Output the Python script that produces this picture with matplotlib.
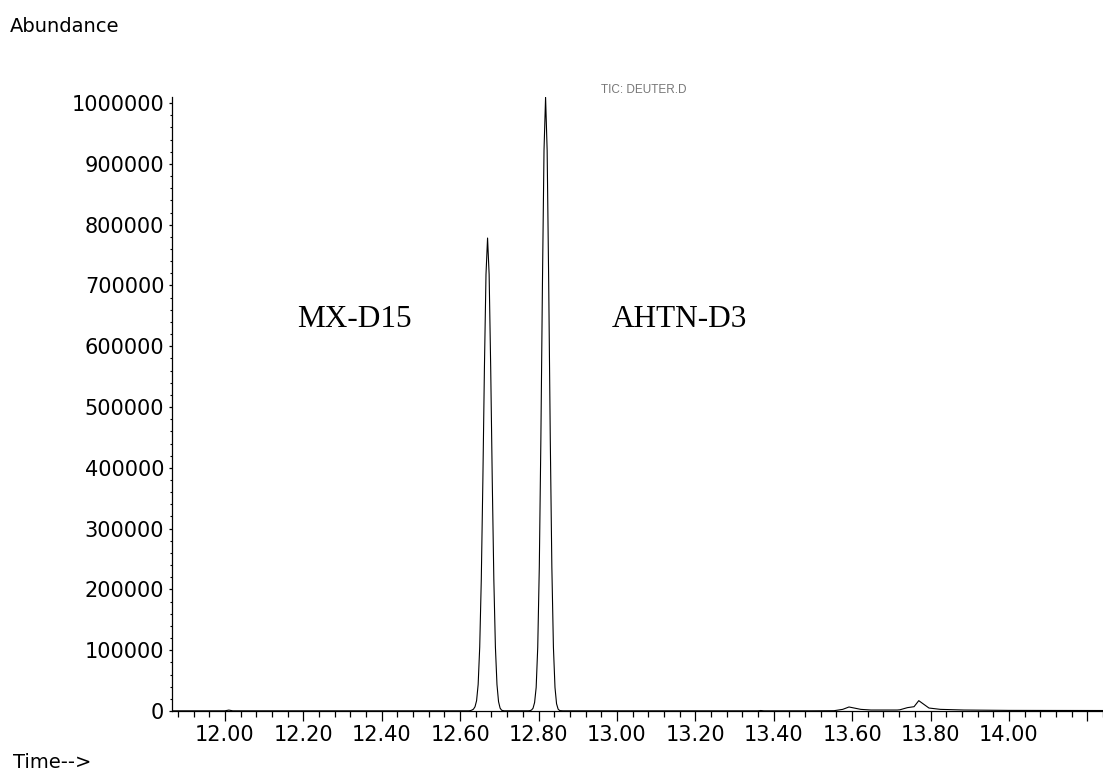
import matplotlib
matplotlib.use("Agg")
import matplotlib.pyplot as plt
from matplotlib.ticker import MultipleLocator, FuncFormatter

# TIC trace (time in min, abundance in counts)
time_min = [
    11.865, 11.95, 12.00, 12.01, 12.02, 12.20, 12.40, 12.60,
    12.622, 12.626, 12.630, 12.634, 12.638, 12.642, 12.646, 12.650, 12.654,
    12.658, 12.662, 12.666, 12.670, 12.674, 12.678, 12.682, 12.686, 12.690,
    12.694, 12.698, 12.702, 12.706, 12.712,
    12.740, 12.774, 12.778, 12.782, 12.786, 12.790, 12.794, 12.798, 12.802,
    12.806, 12.810, 12.814, 12.818, 12.822, 12.826, 12.830, 12.834, 12.838,
    12.842, 12.846, 12.850, 12.854, 12.862,
    13.00, 13.20, 13.36, 13.367, 13.375, 13.50, 13.554, 13.576,
    13.592, 13.609, 13.622, 13.648, 13.715, 13.722, 13.741, 13.758, 13.770,
    13.796, 13.825, 13.885, 14.00, 14.10, 14.24,
]
abundance = [
    300, 300, 300, 1500, 300, 300, 300, 300,
    300, 600, 1500, 3000, 7000, 17000, 43600, 105300, 216300,
    378700, 564900, 718200, 778000, 718200, 564900, 378700, 216300, 105300,
    43600, 15400, 4700, 1200, 300,
    300, 300, 600, 1500, 4500, 14000, 38800, 104900, 237000,
    446800, 702600, 922200, 1009500, 922200, 702600, 446800, 237000, 104900,
    38800, 11900, 3100, 700, 300,
    300, 300, 300, 800, 300, 300, 500, 2700,
    6600, 4400, 2700, 1600, 1600, 2000, 5500, 7100, 17000,
    4900, 2700, 1600, 1000, 900, 800,
]

peak_labels = ["MX-D15", "AHTN-D3"]
peak_label_x = [297, 611.7]      # left edge of label, px
peak_label_base = 327.3          # baseline, px from top

W, H = 1103, 771
fig = plt.figure(figsize=(W / 100, H / 100), dpi=100)
ax = fig.add_axes([172 / W, 60 / H, 1 - 172 / W, (711 - 97) / H])

ax.plot(time_min, abundance, color="black", lw=0.8)

ax.set_xlim(11.865, 14.24)
ax.set_ylim(0, 1010000)

for s in ["top", "right"]:
    ax.spines[s].set_visible(False)
for s in ["left", "bottom"]:
    ax.spines[s].set_linewidth(0.9)

ax.xaxis.set_major_locator(MultipleLocator(0.2))
ax.xaxis.set_minor_locator(MultipleLocator(0.04))
ax.xaxis.set_major_formatter(FuncFormatter(lambda v, p: "" if v > 14.1 else "%.2f" % v))
ax.yaxis.set_major_locator(MultipleLocator(100000))
ax.yaxis.set_minor_locator(MultipleLocator(20000))
ax.yaxis.set_major_formatter(FuncFormatter(lambda v, p: "%d" % round(v)))

ax.tick_params(axis="x", which="major", length=7.5, width=0.9, pad=2.5, labelsize=15)
ax.tick_params(axis="x", which="minor", length=4, width=0.9)
ax.tick_params(axis="y", which="major", length=2.5, width=0.9, pad=3, labelsize=15)
ax.tick_params(axis="y", which="minor", length=1.3, width=0.8)

fig.text(10 / W, 1 - 31.7 / H, "Abundance", fontsize=14, va="baseline", ha="left")
fig.text(13 / W, 1 - 768.5 / H, "Time-->", fontsize=14, va="baseline", ha="left")
fig.text(644 / W, 1 - 93.3 / H, "TIC: DEUTER.D", fontsize=8.5, color="#777777",
         va="baseline", ha="center", family="Liberation Sans")

for lbl, x in zip(peak_labels, peak_label_x):
    fig.text(x / W, 1 - peak_label_base / H, lbl, fontsize=22.5,
             family="Liberation Serif", va="baseline", ha="left")

fig.savefig("out.png", dpi=100)
